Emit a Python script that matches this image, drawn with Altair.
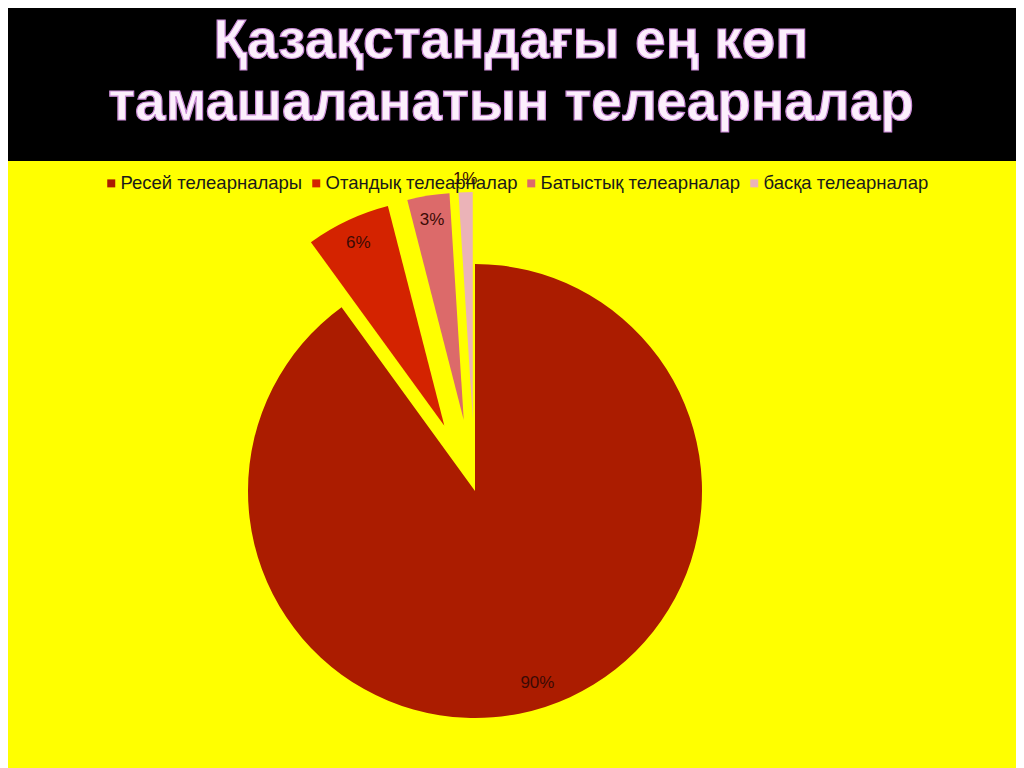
import altair as alt
import pandas as pd

categories = ["Ресей телеарналары", "Отандық телеарналар", "Батыстық телеарналар", "басқа телеарналар"]
shares = [90, 6, 3, 1]
labels = ["90%", "6%", "3%", "1%"]
colors = ["#AB1C00", "#D42300", "#DC6A6A", "#EBB3B8"]
title_line1 = "Қазақстандағы ең көп"
title_line2 = "тамашаланатын телеарналар"

df = pd.DataFrame({"cat": categories, "share": shares, "label": labels, "order": list(range(len(categories)))})
one = pd.DataFrame({"a": [0]})

W, H = 1008, 760
CX, CY, R = 467, 483, 227
EXPLODE = 72

base = alt.Chart(df).transform_window(
    cum="sum(share)", sort=[alt.SortField("order")], frame=[None, 0]
).transform_joinaggregate(
    total="sum(share)"
).transform_calculate(
    t0="2*PI*(datum.cum - datum.share)/datum.total",
    t1="2*PI*datum.cum/datum.total",
    mid="(datum.t0 + datum.t1)/2",
    off=f"datum.order == 0 ? 0 : {EXPLODE}",
    px=f"{CX} + datum.off*sin(datum.mid)",
    py=f"{CY} - datum.off*cos(datum.mid)",
    lr="datum.share < 2 ? 240 : 202",
    lx="datum.px + datum.lr*sin(datum.mid)",
    ly="datum.py - datum.lr*cos(datum.mid)",
)

arcs = base.mark_arc(radius=R).encode(
    x=alt.X("px:Q", scale=None, axis=None),
    y=alt.Y("py:Q", scale=None, axis=None),
    theta=alt.Theta("t0:Q", scale=None),
    theta2="t1:Q",
    color=alt.Color(
        "cat:N",
        scale=alt.Scale(domain=categories, range=colors),
        sort=categories,
        legend=alt.Legend(
            orient="none", legendX=94, legendY=166, direction="horizontal",
            title=None, symbolType="square", symbolSize=64, symbolStrokeWidth=0,
            labelFontSize=18.5, labelFont="Liberation Sans", labelColor="#1a1a1a",
            columnPadding=4, labelOffset=0, labelLimit=400,
        ),
    ),
)

pct = base.mark_text(font="Liberation Sans", fontSize=17, color="#3b0a05",
                     align="center", baseline="middle").encode(
    x=alt.X("lx:Q", scale=None, axis=None),
    y=alt.Y("ly:Q", scale=None, axis=None),
    text="label:N",
)

band = alt.Chart(one).mark_rect(color="#000000").encode(
    x=alt.value(0), x2=alt.value(W), y=alt.value(0), y2=alt.value(153)
)

t1 = alt.Chart(one).mark_text(
    text=title_line1, font="Liberation Sans", fontWeight="bold", fontSize=55,
    fill="#FCEFFC", stroke="#C98AD6", strokeWidth=1.2, align="center", baseline="alphabetic",
).encode(x=alt.value(503), y=alt.value(50))

t2 = alt.Chart(one).mark_text(
    text=title_line2, font="Liberation Sans", fontWeight="bold", fontSize=55,
    fill="#FCEFFC", stroke="#C98AD6", strokeWidth=1.2, align="center", baseline="alphabetic",
).encode(x=alt.value(503), y=alt.value(112))

chart = alt.layer(band, t1, t2, arcs, pct).properties(
    width=W, height=H, padding=0, autosize=alt.AutoSizeParams(type="none"),
    background="#FFFF00",
).configure_view(stroke=None)

chart.save("out.html", embed_options={"renderer": "svg", "actions": False})
